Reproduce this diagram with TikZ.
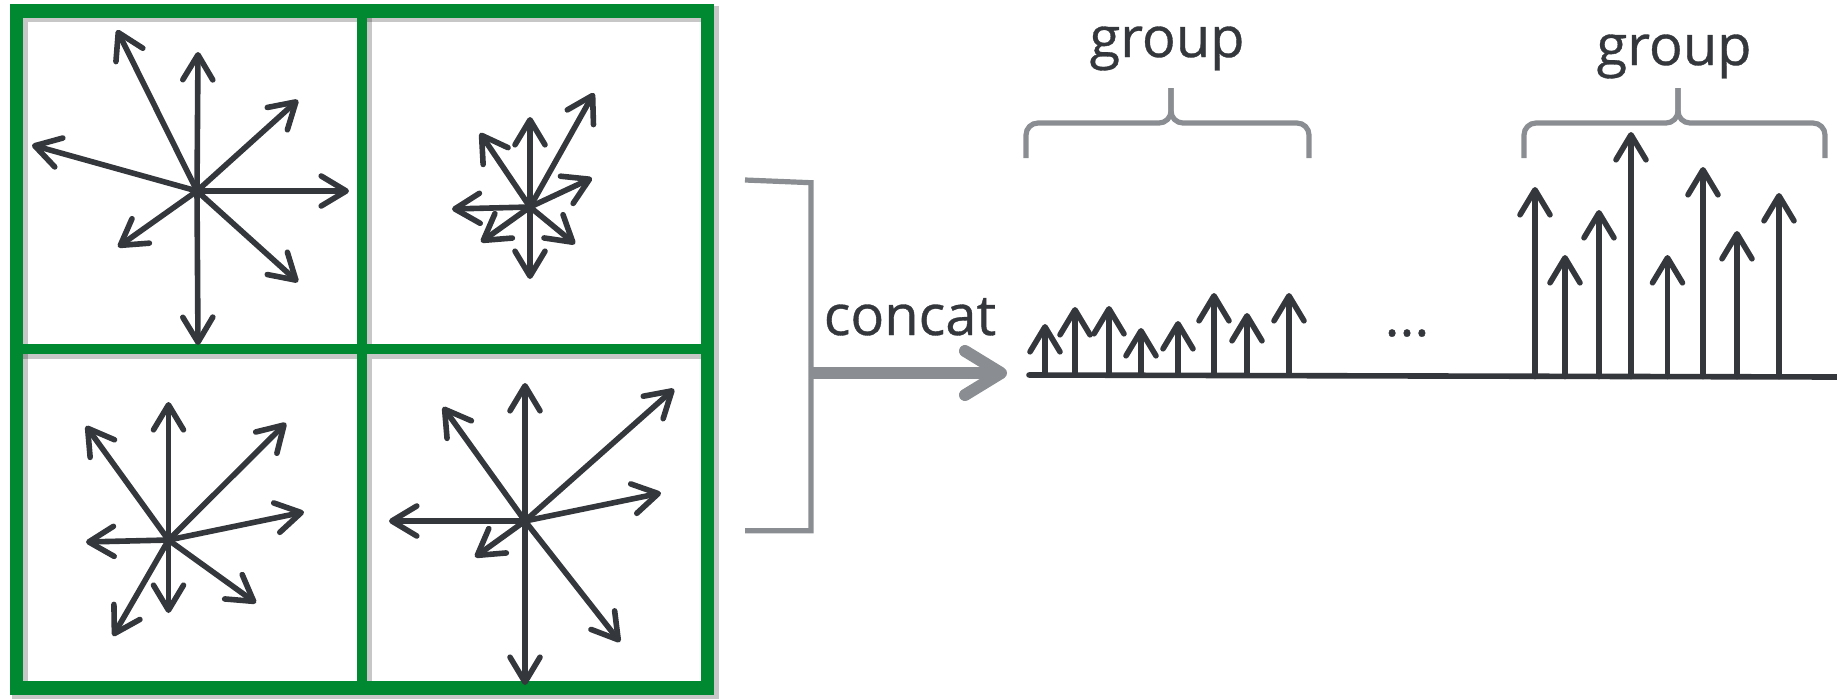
\documentclass[tikz,border=0pt]{standalone}
\usepackage{fontspec}
\setmainfont{Open Sans}
\newfontfamily\lblfont[FakeBold=0.6]{Open Sans}
\usetikzlibrary{arrows.meta}
\definecolor{cellgreen}{RGB}{0,137,48}
\definecolor{vecgray}{RGB}{52,55,60}
\definecolor{linkgray}{RGB}{138,141,145}
\begin{document}
\begin{tikzpicture}[x=0.5pt, y=-0.5pt,
vec/.style={-{Straight Barb[length=12.5pt, width=15pt, round]}, line width=2.8pt, line cap=round, draw=vecgray},
cellframe/.style={draw=cellgreen},
frameshadow/.style={draw=black, opacity=0.22},
bracket/.style={line width=2.6pt, draw=linkgray},
catarrow/.style={-{Straight Barb[length=18pt, width=22pt, round]}, line width=6pt, draw=linkgray},
grpbrace/.style={line width=2.6pt, draw=linkgray, rounded corners=6pt},
lbl/.style={font=\lblfont\fontsize{28}{32}\selectfont, text=vecgray, inner sep=0pt, anchor=base}]
\useasboundingbox (0,0) rectangle (1837,698);
%
% 2x2 cells, soft shadow first
\begin{scope}[shift={(3,3)}]
\draw[frameshadow, line width=8pt] (16.5,11) rectangle (707.5,688);
\draw[frameshadow, line width=6.5pt] (362,11) -- (362,688) (16.5,349) -- (707.5,349);
\end{scope}
\draw[cellframe, line width=6.8pt] (16.5,11) rectangle (707.5,688);
\draw[cellframe, line width=5.4pt] (362,11) -- (362,688) (16.5,349) -- (707.5,349);
%
% descriptors of each cell
\coordinate (tl) at (197,191);
\coordinate (tr) at (530,207);
\coordinate (bl) at (168.5,540);
\coordinate (br) at (525,521);
\foreach \x/\y in {117/30, 198/52, 298/100, 32/145, 349/191, 118/247, 298/282, 198/345}
  \draw[vec] (tl) -- (\x,\y);
\foreach \x/\y in {480/133, 530/117, 594/93, 592/178, 452/209, 481/242, 575/244, 530/279}
  \draw[vec] (tr) -- (\x,\y);
\foreach \x/\y in {86/426, 168.5/402, 286/423, 304/512, 86/542, 113/636, 168.5/613, 256/603}
  \draw[vec] (bl) -- (\x,\y);
\foreach \x/\y in {443/407, 525/383, 674/389, 661/493, 389/521, 475/557, 620/642, 525/685}
  \draw[vec] (br) -- (\x,\y);
%
% concatenation
\coordinate (join) at (811,373);
\coordinate (cend) at (1007,373);
\draw[bracket] (745,180) -- (811,182.7) -- (811,530.7) -- (745,530.7);
\draw[catarrow] (join) -- (cend);
\node[lbl] (concat) at (910,335) {concat};
%
% histogram axis
\coordinate (axL) at (1029,375);
\coordinate (axR) at (1837,377);
\draw[vec, -] (axL) -- (axR);
\foreach \x/\y in {1045/324, 1075/307, 1109/306, 1141/328, 1178/321, 1214/293, 1247/313, 1289/293}
  \draw[vec] (\x,375) -- (\x,\y);
\foreach \x/\y in {1535/187, 1565/255, 1599/210, 1631/132, 1667.5/255, 1703/167, 1737/231, 1779/193}
  \draw[vec] (\x,376.5) -- (\x,\y);
\node[lbl] (dots) at (1407,336) {...};
%
% group braces
\foreach \l/\c/\r in {1026/1171/1309, 1524/1678/1825} {
  \draw[grpbrace] (\l,158) -- (\l,123) -- (\c,123) -- (\c,88);
  \draw[grpbrace] (\r,158) -- (\r,123) -- (\c,123) -- (\c,88);
}
\node[lbl] (grpA) at (1167,57) {group};
\node[lbl] (grpB) at (1674,65) {group};
\end{tikzpicture}
\end{document}
